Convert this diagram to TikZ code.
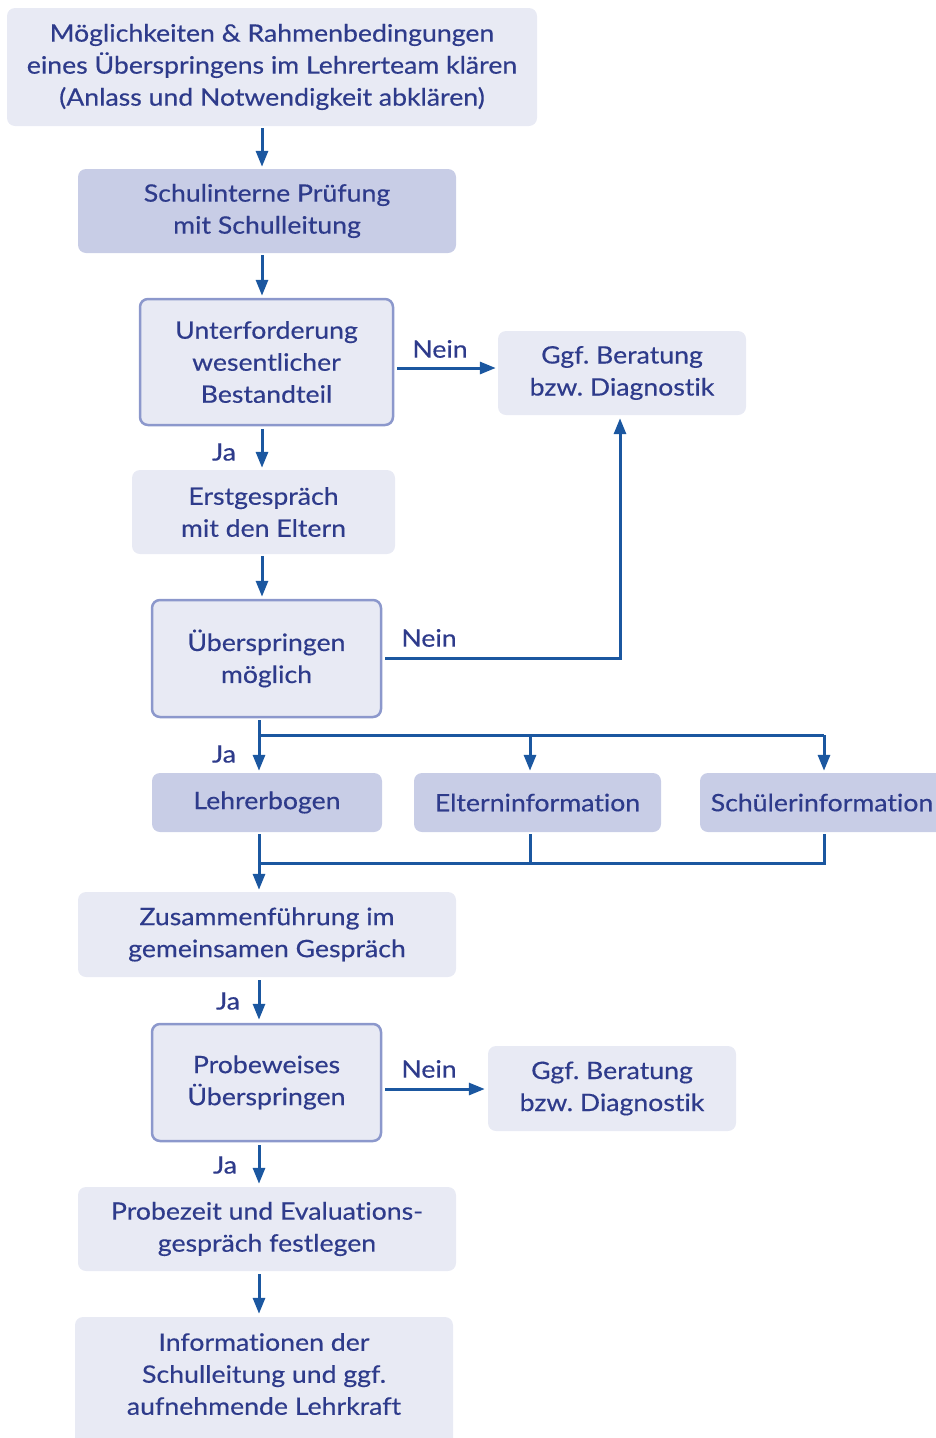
\documentclass[tikz,border=0pt]{standalone}
\usepackage{fontspec}
\setmainfont{Lato}[FakeStretch=1.11,FakeBold=0.4,Ligatures={NoCommon}]
\frenchspacing
\usetikzlibrary{arrows.meta}
\definecolor{txt}{HTML}{2E3B8B}
\definecolor{light}{HTML}{E8EAF4}
\definecolor{dark}{HTML}{C8CDE6}
\definecolor{bord}{HTML}{8C98CC}
\definecolor{arrc}{HTML}{1B57A0}
\tikzset{
 box/.style={rounded corners=8pt, align=center, text=txt, font=\fontsize{24}{32}\selectfont, inner sep=0pt},
 lbox/.style={box, fill=light},
 dbox/.style={box, fill=dark},
 qbox/.style={box, fill=light, draw=bord, line width=2.5pt},
 arr/.style={draw=arrc, line width=3pt, -{Triangle[length=16pt,width=12pt]}},
 ln/.style={draw=arrc, line width=3pt},
 lab/.style={text=txt, font=\fontsize{24}{32}\selectfont, inner sep=0pt},
}
\begin{document}
\frenchspacing
\begin{tikzpicture}[x=1pt,y=-1pt]
\useasboundingbox (0,0) rectangle (936,1438);
\clip (0,0) rectangle (936,1438);
% nodes
\node[lbox, minimum width=530pt, minimum height=118pt] (top) at (272,67) {Möglichkeiten \& Rahmenbedingungen\\eines Überspringens im Lehrerteam klären\\(Anlass und Notwendigkeit abklären)};
\node[dbox, minimum width=378pt, minimum height=84pt] (schul) at (267,211) {Schulinterne Prüfung\\mit Schulleitung};
\node[qbox, minimum width=253pt, minimum height=126pt] (unter) at (266.5,362) {Unterforderung\\wesentlicher\\Bestandteil};
\node[lbox, minimum width=248pt, minimum height=84pt] (ggfa) at (622,373) {Ggf. Beratung\\bzw. Diagnostik};
\node[lbox, minimum width=263pt, minimum height=84pt] (erst) at (263.5,512) {Erstgespräch\\mit den Eltern};
\node[qbox, minimum width=229pt, minimum height=117pt] (ueber) at (266.5,658.5) {Überspringen\\möglich};
\node[dbox, minimum width=230pt, minimum height=59pt] (lehrer) at (267,802.5) {Lehrerbogen};
\node[dbox, minimum width=247pt, minimum height=59pt] (eltern) at (537.5,802.5) {Elterninformation};
\node[dbox, minimum width=244pt, minimum height=59pt] (schueler) at (822,802.5) {Schülerinformation};
\node[lbox, minimum width=378pt, minimum height=85pt] (zus) at (267,934.5) {Zusammenführung im\\gemeinsamen Gespräch};
\node[qbox, minimum width=229pt, minimum height=117pt] (probe) at (266.5,1082.5) {Probeweises\\Überspringen};
\node[lbox, minimum width=248pt, minimum height=85pt] (ggfb) at (612,1088.5) {Ggf. Beratung\\bzw. Diagnostik};
\node[lbox, minimum width=378pt, minimum height=84pt] (probez) at (267,1229) {Probezeit und Evaluations-\\gespräch festlegen};
\node[lbox, minimum width=378pt, minimum height=140pt] (info) at (264,1387) {};
\node[lab, align=center] (infotxt) at (264,1374) {Informationen der\\Schulleitung und ggf.\\aufnehmende Lehrkraft};
% helper coordinates
\coordinate (xa) at (262,0);
\coordinate (xb) at (259,0);
\coordinate (xe) at (530,0);
\coordinate (xs) at (824,0);
\coordinate (xg) at (620,0);
\coordinate (ya) at (0,735);
\coordinate (yb) at (0,863);
\coordinate (yc) at (0,658);
\coordinate (yd) at (0,368);
\coordinate (ye) at (0,1089);
% connectors
\draw[arr, shorten <=2pt, shorten >=2pt] (top.south -| xa) -- (schul.north -| xa);
\draw[arr, shorten <=2pt, shorten >=2pt] (schul.south -| xa) -- (unter.north -| xa);
\draw[arr, shorten <=3pt, shorten >=2pt] (unter.south -| xa) -- (erst.north -| xa);
\draw[arr, shorten <=3pt, shorten >=2pt] (unter.east |- yd) -- (ggfa.west |- yd);
\draw[arr, shorten <=2pt, shorten >=2pt] (erst.south -| xa) -- (ueber.north -| xa);
\draw[arr, shorten <=3pt, shorten >=3pt] (ueber.east |- yc) -| (ggfa.south -| xg);
% branch
\draw[arr, shorten <=2pt, shorten >=2pt] (ueber.south -| xb) -- (lehrer.north -| xb);
\draw[ln] (xb |- ya) -- (xs |- ya);
\draw[arr, shorten >=2pt] (xe |- ya) -- (eltern.north -| xe);
\draw[arr, shorten >=2pt] (xs |- ya) -- (schueler.north -| xs);
% merge
\draw[arr, shorten <=2pt, shorten >=2pt] (lehrer.south -| xb) -- (zus.north -| xb);
\draw[ln, shorten <=2pt] (eltern.south -| xe) -- (xe |- yb);
\draw[ln, shorten <=2pt] (schueler.south -| xs) -- (xs |- yb) -- (xb |- yb);
% lower
\draw[arr, shorten <=3pt, shorten >=3pt] (zus.south -| xb) -- (probe.north -| xb);
\draw[arr, shorten <=3pt, shorten >=3pt] (probe.east |- ye) -- (ggfb.west |- ye);
\draw[arr, shorten <=3pt, shorten >=3pt] (probe.south -| xb) -- (probez.north -| xb);
\draw[arr, shorten <=3pt, shorten >=3pt] (probez.south -| xb) -- (info.north -| xb);
% labels
\node[lab] (ja1) at (224,452) {Ja};
\node[lab] (nein1) at (440,349) {Nein};
\node[lab] (nein2) at (429,638) {Nein};
\node[lab] (ja2) at (224,754) {Ja};
\node[lab] (ja3) at (228,1001) {Ja};
\node[lab] (nein3) at (429,1069) {Nein};
\node[lab] (ja4) at (225,1165) {Ja};
\end{tikzpicture}
\end{document}
